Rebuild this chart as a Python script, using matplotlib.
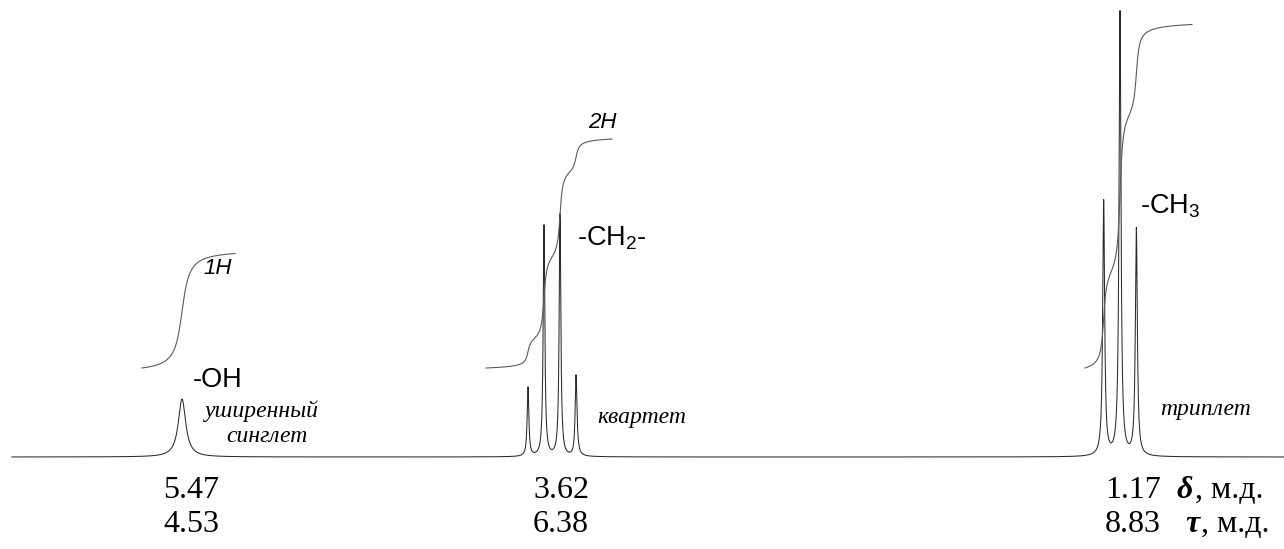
import numpy as np
import matplotlib
matplotlib.use("Agg")
import matplotlib.pyplot as plt

W, H = 1284, 549

# line positions (ppm) and intensities of the three signals
singlet_ppm = [5.47]
singlet_height = [58]
quartet_ppm = [3.74, 3.66, 3.58, 3.50]
quartet_height = [69, 231, 242, 81]
triplet_ppm = [1.24, 1.17, 1.10]
triplet_height = [255, 444, 227]

proton_count = [1, 2, 3]
proton_labels = ["1H", "2H", "3H"]
delta_labels = ["5.47", "3.62", "1.17"]
tau_labels = ["4.53", "6.38", "8.83"]
group_names = ["-OH", r"-CH$_2$-", r"-CH$_3$"]

plt.rcParams["font.family"] = ["Liberation Serif", "DejaVu Serif"]
plt.rcParams["mathtext.fontset"] = "custom"
plt.rcParams["mathtext.rm"] = "Liberation Sans"
plt.rcParams["mathtext.it"] = "Liberation Sans:italic"

# drawn ppm axis is not uniform, so map ppm -> horizontal position piecewise
ppm_knots = np.array([7.0, 5.47, 3.50, 1.17, 0.0])
pos_knots = np.array([-124.0, 182.0, 576.0, 1120.0, 1393.2])


def fwd(ppm):
    return -np.interp(-np.asarray(ppm, float), -ppm_knots, pos_knots)


def inv(t):
    return np.interp(-np.asarray(t, float), pos_knots, ppm_knots)


def lorentz(x, x0, h, hw):
    return h / (1 + ((x - x0) / hw) ** 2)


# (ppm, height, line half-width, integral half-width, integral span)
groups = [
    (singlet_ppm, singlet_height, 0.0225, 0.027, (5.67, 5.205)),
    (quartet_ppm, quartet_height, 0.005, 0.010, (3.95, 3.346)),
    (triplet_ppm, triplet_height, 0.005, 0.009, (1.32, 0.862)),
]
per_proton = 114.5
integral_offset = 89

fig = plt.figure(figsize=(W / 100, H / 100), dpi=100)
ax = fig.add_axes([0, 0, 1, 1])
ax.set_xscale("function", functions=(fwd, inv))
ax.set_xlim(6.38, 0.4677)
ax.set_ylim(-92, 457)
ax.axis("off")

# spectrum
x = np.linspace(6.32, 0.47, 40000)
y = np.zeros_like(x)
for ppms, heights, hw, _, _ in groups:
    for p, h in zip(ppms, heights):
        y += lorentz(x, p, h, hw)
ax.plot(x, y, color="#2a2a2a", lw=0.75)

# integral curves
for (ppms, heights, _, iw, (a, b)), n in zip(groups, proton_count):
    xi = np.linspace(a, b, 3000)
    F = np.zeros_like(xi)
    for p, h in zip(ppms, heights):
        F += h * (np.arctan((p - xi) / iw) - np.arctan((p - a) / iw))
    F = F / F[-1] * n * per_proton + integral_offset
    ax.plot(xi, F, color="#5a5a5a", lw=0.8)


def ftext(px, py, s, **kw):
    return fig.text(px / W, 1 - py / H, s, **kw)


sans = "Liberation Sans"
serif = "Liberation Serif"

# proton counts above the integrals
ftext(218, 269, proton_labels[0], family=sans, style="italic", fontsize=16,
      ha="center", va="center")
ftext(602, 122, proton_labels[1], family=sans, style="italic", fontsize=16,
      ha="center", va="center")

# group labels
ftext(193, 387, group_names[0], family=sans, fontsize=19.5, va="baseline")
ftext(577, 245, group_names[1], family=sans, fontsize=19.5, va="baseline")
ftext(1140, 213, group_names[2], family=sans, fontsize=19.5, va="baseline")

# multiplicity
ftext(262, 417, "уширенный", family=serif, style="italic", fontsize=17,
      ha="center", va="baseline")
ftext(267, 442, "синглет", family=serif, style="italic", fontsize=17,
      ha="center", va="baseline")
ftext(597, 423, "квартет", family=serif, style="italic", fontsize=17,
      va="baseline")
ftext(1160, 415, "триплет", family=serif, style="italic", fontsize=17,
      va="baseline")

# chemical shift values under each signal
shifts = [float(s) for s in delta_labels]
label_dx = [9, 9, 13]
num_kw = dict(family=serif, fontsize=23, ha="center", va="baseline",
              textcoords="offset pixels")
last = []
for s, d, t, dx in zip(shifts, delta_labels, tau_labels, label_dx):
    a1 = ax.annotate(d, xy=(s, 0), xytext=(dx, -41), **num_kw)
    a2 = ax.annotate(t, xy=(s, 0), xytext=(dx, -75), **num_kw)
    last = [a1, a2]

unit_kw = dict(family=serif, fontsize=23, ha="left", va="bottom",
               textcoords="offset pixels")
for art, sym, gap in zip(last, ["δ", "τ"], [16, 24]):
    g = ax.annotate(sym, xy=(1, 0), xycoords=art, xytext=(gap, 0),
                    style="italic", weight="bold", **unit_kw)
    ax.annotate(", м.д.", xy=(1, 0), xycoords=g, xytext=(2, 0), **unit_kw)

fig.savefig("out.png", dpi=100)
